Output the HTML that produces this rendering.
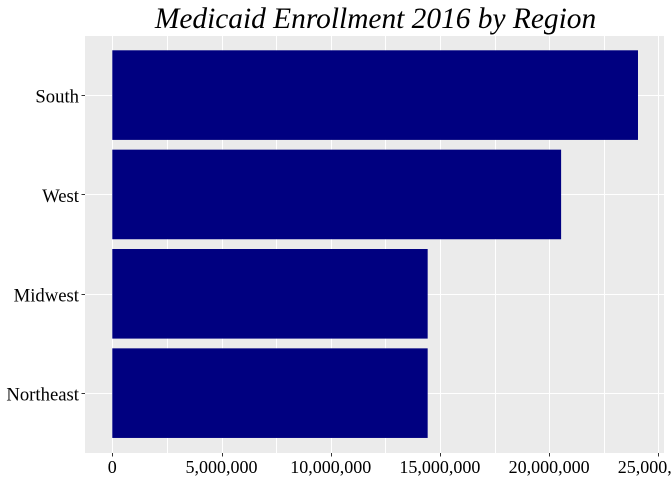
<!DOCTYPE html>
<html>
<head>
<meta charset="utf-8">
<style>
html,body{margin:0;padding:0;background:#fff;width:672px;height:480px;overflow:hidden}
svg{display:block}
text{font-family:"Liberation Serif",serif;fill:#000}
</style>
</head>
<body>
<svg id="chart" xmlns="http://www.w3.org/2000/svg" width="672" height="480" viewBox="0 0 672 480"></svg>
<script>
const titleText = "Medicaid Enrollment 2016 by Region";
const regions = ["South", "West", "Midwest", "Northeast"];
const enrollment = [24070000, 20550000, 14440000, 14440000];
const xTicks = [0, 5000000, 10000000, 15000000, 20000000, 25000000];
const xTickLabels = ["0", "5,000,000", "10,000,000", "15,000,000", "20,000,000", "25,000,000"];
const xMinorTicks = [2500000, 7500000, 12500000, 17500000, 22500000];

const svg = document.getElementById('chart');
const NS = 'http://www.w3.org/2000/svg';
const panel = {left: 85, right: 664, top: 36, bottom: 453};
const xOrigin = 112.3, pxPerUnit = 21.84 / 1000000;
const bandStep = 99.35, firstBand = 95.1, barWidth = 89.6;
function xScale(v) { return xOrigin + v * pxPerUnit; }
function yScale(i) { return firstBand + i * bandStep; }
function make(tag, attrs) {
  const el = document.createElementNS(NS, tag);
  for (const k in attrs) el.setAttribute(k, attrs[k]);
  svg.appendChild(el);
  return el;
}

const bg = make('rect', {x: panel.left, y: panel.top, width: panel.right - panel.left, height: panel.bottom - panel.top, fill: '#EBEBEB'});



xMinorTicks.forEach(function (v) {
  const x = Math.round(xScale(v)) + 0.5;
  const l = make('line', {x1: x, x2: x, y1: panel.top, y2: panel.bottom, stroke: '#fff', 'stroke-width': 1, 'shape-rendering': 'crispEdges'});
  
  
});
xTicks.forEach(function (v) {
  const x = Math.round(xScale(v)) + 0.5;
  const l = make('line', {x1: x, x2: x, y1: panel.top, y2: panel.bottom, stroke: '#fff', 'stroke-width': 1, 'shape-rendering': 'crispEdges'});
  
  
});
regions.forEach(function (r, i) {
  const y = Math.round(yScale(i)) + 0.5;
  const l = make('line', {x1: panel.left, x2: panel.right, y1: y, y2: y, stroke: '#fff', 'stroke-width': 1, 'shape-rendering': 'crispEdges'});
  
  
});

enrollment.forEach(function (v, i) {
  const b = make('rect', {x: xScale(0), y: yScale(i) - barWidth / 2, width: xScale(v) - xScale(0), height: barWidth, fill: '#000080'});
  
  
});

regions.forEach(function (r, i) {
  const y = Math.round(yScale(i)) + 0.5;
  const t = make('line', {x1: 81.5, x2: panel.left, y1: y, y2: y, stroke: '#333', 'stroke-width': 1, 'shape-rendering': 'crispEdges'});
  
  
  const lab = make('text', {x: 79, y: yScale(i) + 7.5, 'text-anchor': 'end', 'font-size': 18.7});
  
  
  lab.textContent = r;
});

xTicks.forEach(function (v, i) {
  const x = Math.round(xScale(v)) + 0.5;
  const t = make('line', {x1: x, x2: x, y1: panel.bottom, y2: panel.bottom + 3.5, stroke: '#333', 'stroke-width': 1, 'shape-rendering': 'crispEdges'});
  
  
  const lab = make('text', {x: xScale(v), y: 473, 'text-anchor': 'middle', 'font-size': 18});
  
  
  lab.textContent = xTickLabels[i];
});

const title = make('text', {x: 375.5, y: 28, 'text-anchor': 'middle', 'font-size': 29.4, 'font-style': 'italic'});


title.textContent = titleText;
</script>
</body>
</html>
